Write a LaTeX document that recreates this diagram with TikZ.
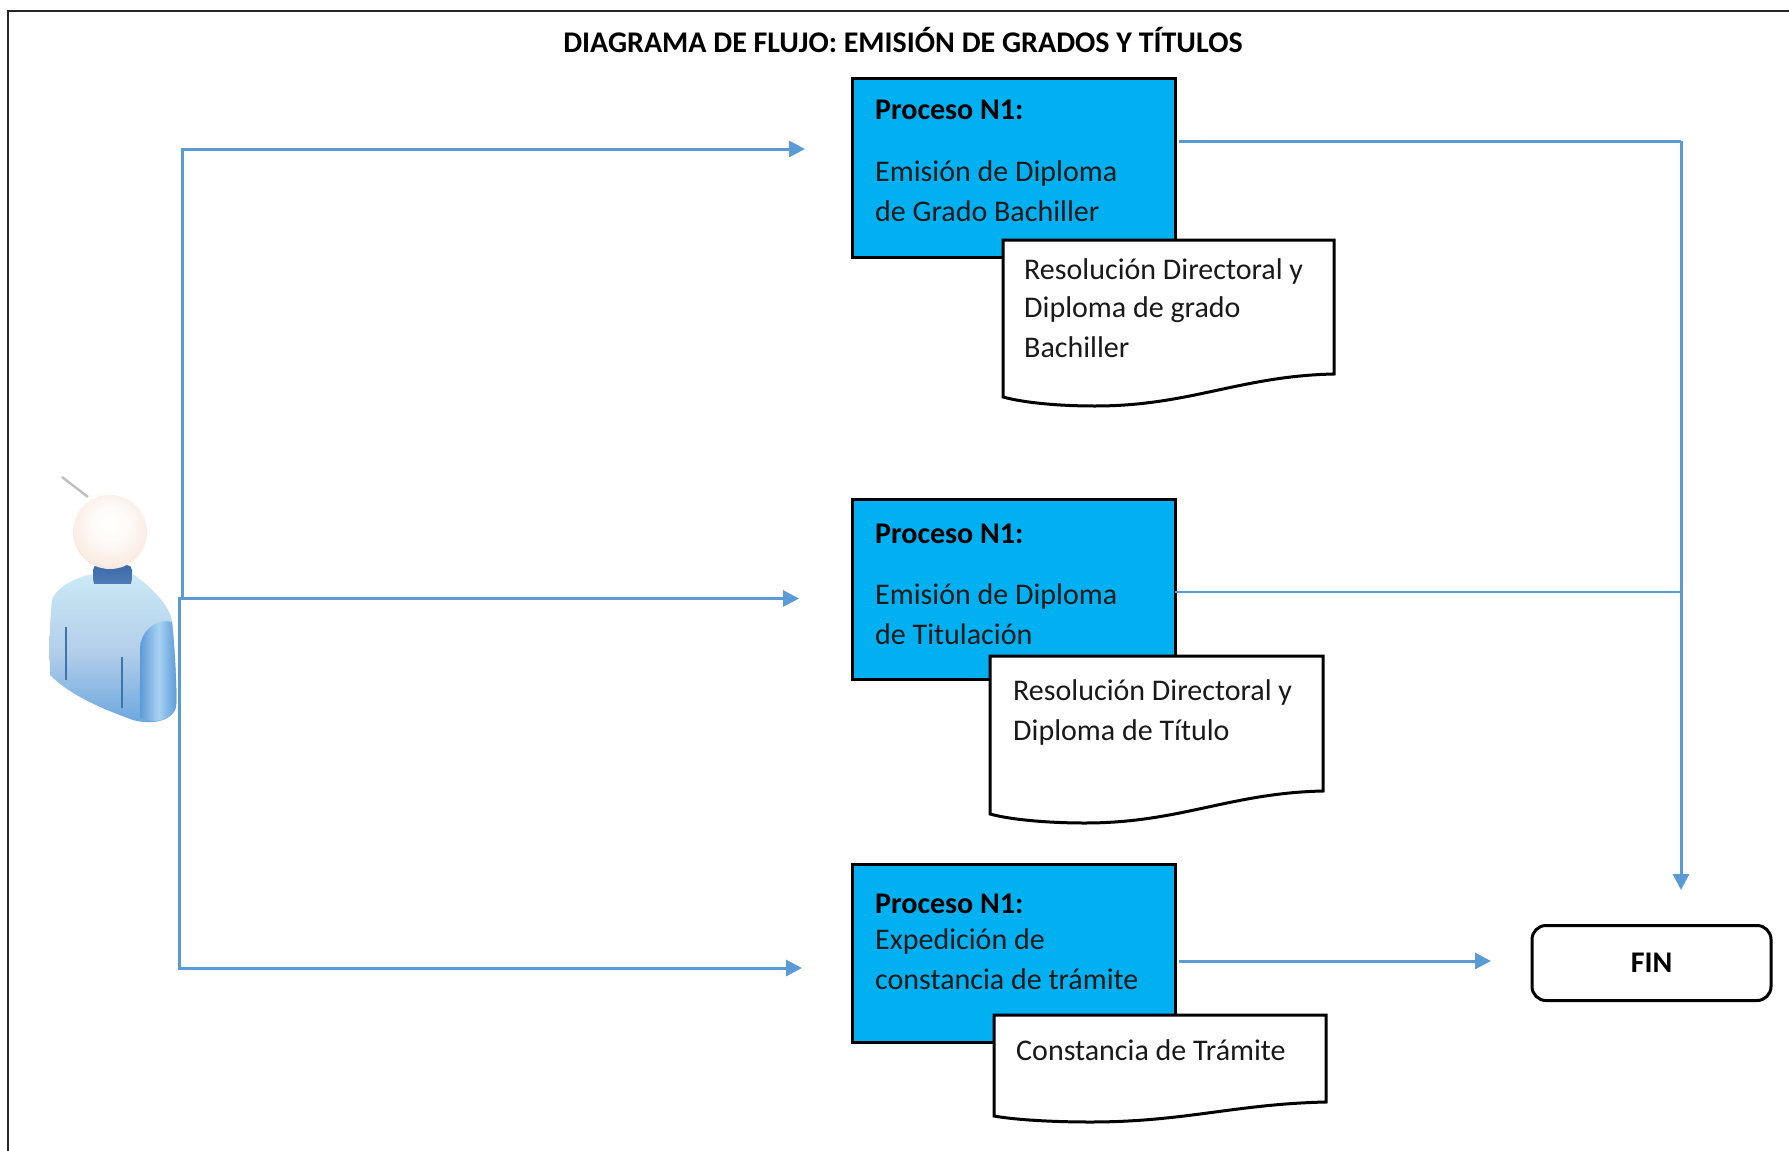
\documentclass[tikz,border=0pt]{standalone}
\usepackage{fontspec}
\setmainfont{Carlito}
\usetikzlibrary{arrows.meta}
\definecolor{linkblue}{HTML}{5B9BD5}
\definecolor{procblue}{HTML}{00B0F0}
\definecolor{neckA}{HTML}{3A6AA8}
\definecolor{neckB}{HTML}{5580BC}
\definecolor{bodyA}{HTML}{CBE9F6}
\definecolor{bodyB}{HTML}{B4CFEA}
\definecolor{bodyC}{HTML}{6AA6DE}
\definecolor{sleeveA}{HTML}{5C9AD8}
\definecolor{sleeveB}{HTML}{A8D2F2}
\definecolor{sleeveC}{HTML}{5A9AD8}
\definecolor{foldc}{HTML}{3F74A8}
\definecolor{headC}{HTML}{F0C8AE}
\pgfdeclareradialshading{headball}{\pgfpoint{0bp}{7bp}}{
  color(0bp)=(white);
  color(12bp)=(white!92!headC);
  color(26bp)=(white!65!headC);
  color(36bp)=(headC);
  color(50bp)=(headC)}
\tikzset{
  procbox/.style={draw=black,line width=3pt,fill=procblue,inner sep=0pt,minimum width=323pt},
  docshape/.style={draw=black,line width=3pt,fill=white,line join=miter},
  body/.style={anchor=base west,inner sep=0pt,font=\fontsize{30}{36}\selectfont,text=black!90},
  bodybold/.style={body,font=\fontsize{30}{36}\selectfont\bfseries,text=black},
  link/.style={draw=linkblue,line width=3pt},
  thinlink/.style={draw=linkblue,line width=1.5pt},
  arrowlink/.style={link,-{Triangle[length=16pt,width=16pt]}},
  frameline/.style={draw=black!85,line width=1.8pt}
}
\begin{document}
\begin{tikzpicture}[x=1pt,y=-1pt]
\useasboundingbox (0,0) rectangle (1789,1151);
\fill[white] (0,0) rectangle (1789,1151);
% frame
\draw[frameline] (8,1151) -- (8,11) -- (1789,11);
% title
\node[anchor=base,inner sep=0pt,font=\fontsize{30}{36}\selectfont\bfseries] (title) at (903,52) {DIAGRAMA DE FLUJO: EMISIÓN DE GRADOS Y TÍTULOS};
% person
\draw[gray!50,line width=2.4pt] (62,477) -- (88,497);
\shade[top color=neckA,bottom color=neckB,rounded corners=5pt] (93,565) rectangle (132,587);
\shade[top color=bodyA,bottom color=bodyC,middle color=bodyB]
  (50,670) .. controls (49,640) and (50,620) .. (52,600)
  .. controls (56,587) and (75,578) .. (92,574) -- (94,584) -- (131,584) -- (133,574)
  .. controls (155,590) and (168,605) .. (172,620)
  .. controls (176,660) and (177,700) .. (176,707)
  .. controls (172,722) and (150,725) .. (133,720)
  .. controls (100,708) and (70,695) .. (50,675) -- cycle;
\shade[left color=sleeveA,right color=sleeveC,middle color=sleeveB]
  (140,650) .. controls (140,628) and (160,618) .. (172,622)
  .. controls (176,660) and (177,700) .. (176,707)
  .. controls (172,722) and (152,724) .. (140,717) -- cycle;
\draw[color=foldc,line width=1.8pt] (66,627) -- (66,680);
\draw[color=foldc,line width=1.8pt] (122,657) -- (122,708);
\shade[shading=headball] (110,532) circle (37);
% process boxes
\node[procbox,minimum height=179pt] (p1) at (1013.5,167.5) {};
\node[procbox,minimum height=180pt] (p2) at (1013.5,589) {};
\node[procbox,minimum height=178pt] (p3) at (1013.5,953) {};
% process texts
\node[bodybold] (p1a) at (875,119) {Proceso N1:};
\node[body] (p1b) at (875,181) {Emisión de Diploma};
\node[body] (p1c) at (875,221) {de Grado Bachiller};
\node[bodybold] (p2a) at (875,543) {Proceso N1:};
\node[body] (p2b) at (875,604) {Emisión de Diploma};
\node[body] (p2c) at (875,644) {de Titulación};
\node[bodybold] (p3a) at (875,913) {Proceso N1:};
\node[body] (p3b) at (875,949) {Expedición de};
\node[body] (p3c) at (875,989) {constancia de trámite};
% documents
\draw[docshape] (1003,240) -- (1334,240) -- (1334,374)
  .. controls (1240,376) and (1190,406) .. (1095,406)
  .. controls (1060,406) and (1025,403) .. (1003,397) -- cycle;
\draw[docshape] (990,656) -- (1323,656) -- (1323,791)
  .. controls (1230,793) and (1180,823) .. (1085,823)
  .. controls (1050,823) and (1012,820) .. (990,814) -- cycle;
\draw[docshape] (994,1015) -- (1326,1015) -- (1326,1102)
  .. controls (1235,1104) and (1185,1122) .. (1090,1122)
  .. controls (1055,1122) and (1016,1120) .. (994,1116) -- cycle;
\node[body] (d1a) at (1024,279) {Resolución Directoral y};
\node[body] (d1b) at (1024,317.5) {Diploma de grado};
\node[body] (d1c) at (1024,357) {Bachiller};
\node[body] (d2a) at (1013,700) {Resolución Directoral y};
\node[body] (d2b) at (1013,740) {Diploma de Título};
\node[body] (d3a) at (1016,1060) {Constancia de Trámite};
% FIN
\node[draw=black,line width=3pt,rounded corners=14pt,minimum width=239pt,minimum height=75pt,inner sep=0pt,font=\fontsize{30}{36}\selectfont\bfseries] (fin) at (1651.5,963) {FIN};
% connector ends
\coordinate (split) at (178,598.5);
\coordinate (upcorner) at (182,149);
\coordinate (lowcorner) at (179,968);
\coordinate (in1) at (805,149);
\coordinate (in2) at (799,598.5);
\coordinate (in3) at (802,968);
\coordinate (out1) at (1179,141);
\coordinate (out2) at (1175,592);
\coordinate (out3) at (1179,961);
\coordinate (collect1) at (1681,141);
\coordinate (collect2) at (1681,592);
\coordinate (collectend) at (1681,890);
\coordinate (finend) at (1491,961);
% connectors
\draw[arrowlink] (182,598.5) -- (upcorner) -- (in1);
\draw[arrowlink] (split) -- (in2);
\draw[arrowlink] (179,598.5) -- (lowcorner) -- (in3);
\draw[link] (out1) -- (collect1);
\draw[arrowlink] (collect1) -- (collectend);
\draw[thinlink] (out2) -- (collect2);
\draw[arrowlink] (out3) -- (finend);
\end{tikzpicture}
\end{document}
